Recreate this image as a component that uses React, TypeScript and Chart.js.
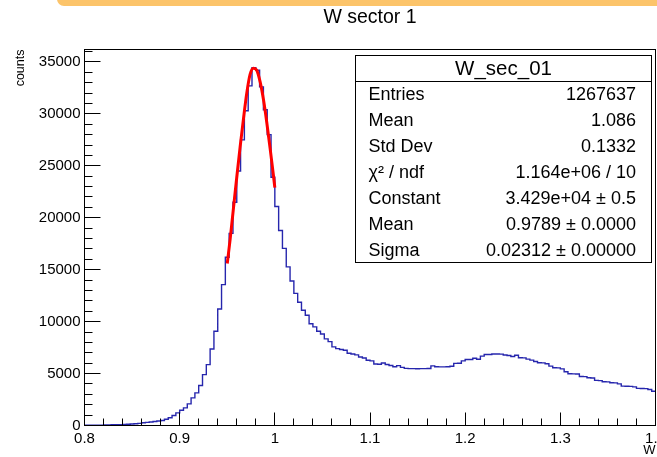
import React, { useEffect, useRef } from "react";
import { Chart, registerables } from "chart.js";

Chart.register(...registerables);

// ---------- data ----------
const titleText = "W sector 1";
const xAxisTitle = "W";
const yAxisTitle = "counts";
const xMin = 0.8;
const xMax = 1.4;
const yMin = 0;
const yMax = 36200;
const xTickValues = [0.8, 0.9, 1.0, 1.1, 1.2, 1.3, 1.4];
const xTickLabels = ["0.8", "0.9", "1", "1.1", "1.2", "1.3", "1.4"];
const yTickValues = [0, 5000, 10000, 15000, 20000, 25000, 30000, 35000];
const yTickLabels = ["0", "5000", "10000", "15000", "20000", "25000", "30000", "35000"];

// histogram: 150 bins of width 0.004 starting at 0.8
const binStart = 0.8;
const binWidth = 0.004;
const binCounts = [
  20, 25, 30, 35, 40, 50, 55, 65, 75, 85,
  100, 120, 150, 170, 200, 260, 300, 340, 390, 440,
  480, 600, 740, 960, 1220, 1470, 1700, 2080, 2660, 3140,
  3850, 4900, 5860, 7370, 9070, 11220, 13560, 16200, 18500, 21500,
  24500, 27500, 30300, 32700, 34450, 34200, 32600, 30400, 28000, 23900,
  21090, 18780, 17050, 15270, 13910, 12720, 11860, 11090, 10620, 9790,
  9500, 9070, 8810, 8340, 8080, 7570, 7400, 7310, 7250, 6950,
  6880, 6800, 6600, 6500, 6280, 6220, 5920, 5900, 6020, 5880,
  5770, 5650, 5760, 5600, 5500, 5480, 5480, 5470, 5480, 5480,
  5490, 5740, 5650, 5640, 5640, 5650, 5700, 5980, 6000, 6220,
  6350, 6360, 6480, 6380, 6680, 6830, 6840, 6890, 6880, 6870,
  6790, 6740, 6640, 6760, 6520, 6510, 6390, 6290, 6160, 6040,
  6030, 5940, 5720, 5560, 5550, 5450, 5170, 4980, 4970, 4960,
  4720, 4710, 4600, 4580, 4340, 4320, 4210, 4200, 4110, 4100,
  4010, 3790, 3780, 3770, 3720, 3570, 3560, 3550, 3460, 3300,
];

// gaussian fit curve
const fitX = [0.95, 0.953, 0.9565, 0.96, 0.9635, 0.967, 0.9705, 0.974, 0.9775, 0.981, 0.9845, 0.988, 0.9915, 0.995, 0.9985, 1.0];
const fitY = [15600, 17900, 20900, 23900, 26800, 29500, 32000, 33800, 34400, 34200, 33100, 31400, 29200, 26700, 24100, 22900];

// stats box
const statsTitle = "W_sec_01";
const statsLabels = ["Entries", "Mean", "Std Dev", "\u03c7\u00b2 / ndf", "Constant", "Mean", "Sigma"];
const statsValues = [
  "1267637",
  "1.086",
  "0.1332",
  "1.164e+06 / 10",
  "3.429e+04 \u00b1 0.5",
  "0.9789 \u00b1 0.0000",
  "0.02312 \u00b1 0.00000",
];

// ---------- styling ----------
const FONT = '"Liberation Sans", Arial, Helvetica, sans-serif';
const HIST_COLOR = "#2626ad";
const FIT_COLOR = "#ff0000";

const rootPlugin = {
  id: "rootDecor",
  afterDatasetsDraw(chart: any) {
    const { ctx, chartArea: a, scales } = chart;
    const xs = scales.x;
    const ys = scales.y;
    ctx.save();
    ctx.strokeStyle = "#000";
    ctx.lineWidth = 1;
    ctx.beginPath();
    // y ticks (inside, left)
    for (let i = 0; i <= 40; i++) {
      const v = i * 1000;
      if (v > yMax) break;
      const y = Math.floor(ys.getPixelForValue(v)) + 0.5;
      const len = i % 5 === 0 ? 16 : 8;
      ctx.moveTo(a.left, y);
      ctx.lineTo(a.left + len, y);
    }
    // x ticks (inside, bottom)
    for (let i = 0; i <= 30; i++) {
      const v = xMin + i * 0.02;
      const x = Math.floor(xs.getPixelForValue(v)) + 0.5;
      const len = i % 5 === 0 ? 13 : 7;
      ctx.moveTo(x, a.bottom);
      ctx.lineTo(x, a.bottom - len);
    }
    ctx.stroke();
    ctx.strokeRect(a.left, a.top, a.right - a.left, a.bottom - a.top);
    ctx.restore();
  },
  afterDraw(chart: any) {
    const { ctx } = chart;
    const L = 355.5, T = 55.5, R = 651.5, B = 262.5;
    const rowH = (B - T) / (statsLabels.length + 1);
    ctx.save();
    ctx.fillStyle = "#fff";
    ctx.fillRect(L, T, R - L, B - T);
    ctx.strokeStyle = "#000";
    ctx.lineWidth = 1;
    ctx.strokeRect(L, T, R - L, B - T);
    ctx.beginPath();
    const dy = Math.floor(T + rowH) + 0.5;
    ctx.moveTo(L, dy);
    ctx.lineTo(R, dy);
    ctx.stroke();
    ctx.fillStyle = "#000";
    ctx.textBaseline = "middle";
    ctx.textAlign = "center";
    ctx.font = `20.5px ${FONT}`;
    ctx.fillText(statsTitle, (L + R) / 2, T + rowH * 0.5 + 1);
    ctx.font = `18px ${FONT}`;
    for (let i = 0; i < statsLabels.length; i++) {
      const cy = T + rowH * (i + 1.5) + 1;
      ctx.textAlign = "left";
      ctx.fillText(statsLabels[i], 368.5, cy);
      ctx.textAlign = "right";
      ctx.fillText(statsValues[i], 636, cy);
    }
    ctx.restore();
  },
};

function labelFor(values: number[], labels: string[], v: number) {
  for (let i = 0; i < values.length; i++) {
    if (Math.abs(values[i] - v) < 1e-6 * Math.max(1, Math.abs(v))) return labels[i];
  }
  return "";
}

export default function App() {
  const canvasRef = useRef<HTMLCanvasElement | null>(null);

  useEffect(() => {
    if (!canvasRef.current) return;
    const histPoints = binCounts.map((c, i) => ({ x: binStart + i * binWidth, y: c }));
    histPoints.push({ x: binStart + binCounts.length * binWidth, y: binCounts[binCounts.length - 1] });
    const fitPoints = fitX.map((x, i) => ({ x, y: fitY[i] }));

    const chart = new Chart(canvasRef.current, {
      type: "line",
      data: {
        datasets: [
          {
            label: "fit",
            data: fitPoints,
            borderColor: FIT_COLOR,
            borderWidth: 3,
            pointRadius: 0,
            cubicInterpolationMode: "monotone",
            fill: false,
            order: 0,
          },
          {
            label: statsTitle,
            data: histPoints,
            borderColor: HIST_COLOR,
            borderWidth: 1.4,
            pointRadius: 0,
            stepped: "before",
            fill: false,
            order: 1,
          },
        ],
      },
      options: {
        responsive: false,
        animation: false,
        devicePixelRatio: 1,
        layout: { padding: { left: 0, right: 1.5, top: 0, bottom: 0 } },
        plugins: {
          legend: { display: false },
          tooltip: { enabled: false },
          title: {
            display: true,
            text: titleText,
            fullSize: false,
            color: "#000",
            font: { family: FONT, size: 19.5, weight: "normal", lineHeight: 1.2 },
            padding: { top: 6, bottom: 20.1 },
          },
        },
        scales: {
          x: {
            type: "linear",
            min: xMin,
            max: xMax,
            grid: { display: false, drawTicks: false },
            border: { display: false },
            afterBuildTicks: (s: any) => {
              s.ticks = xTickValues.map((v) => ({ value: v }));
            },
            ticks: {
              autoSkip: false,
              maxRotation: 0,
              padding: 4,
              color: "#000",
              font: { family: FONT, size: 15 },
              callback: (v: any) => labelFor(xTickValues, xTickLabels, Number(v)),
            },
            title: {
              display: true,
              text: xAxisTitle,
              align: "end",
              color: "#000",
              font: { family: FONT, size: 13, lineHeight: 1 },
              padding: { top: 0, bottom: 0 },
            },
            afterFit: (s: any) => {
              s.height = 31.5;
              s.paddingLeft = 0;
              s.paddingRight = 0;
            },
          },
          y: {
            type: "linear",
            min: yMin,
            max: yMax,
            grid: { display: false, drawTicks: false },
            border: { display: false },
            afterBuildTicks: (s: any) => {
              s.ticks = yTickValues.map((v) => ({ value: v }));
            },
            ticks: {
              autoSkip: false,
              padding: 4,
              color: "#000",
              font: { family: FONT, size: 15 },
              callback: (v: any) => labelFor(yTickValues, yTickLabels, Number(v)),
            },
            title: {
              display: true,
              text: yAxisTitle,
              align: "end",
              color: "#000",
              font: { family: FONT, size: 12.5, lineHeight: 1.2 },
              padding: { top: 13, bottom: 0 },
            },
            afterFit: (s: any) => {
              s.width = 84.5;
              s.paddingTop = 0;
              s.paddingBottom = 0;
            },
          },
        },
      },
      plugins: [rootPlugin],
    } as any);
    return () => chart.destroy();
  }, []);

  return (
    <div style={{ position: "fixed", left: 0, top: 0, width: 657, height: 457, background: "#fff", overflow: "hidden" }}>
      <div
        style={{
          position: "absolute",
          left: 57,
          top: -10,
          width: 620,
          height: 16,
          background: "#fcc46a",
          borderBottomLeftRadius: 7,
          zIndex: 1,
        }}
      />
      <canvas ref={canvasRef} width={657} height={457} style={{ display: "block", width: 657, height: 457 }} />
    </div>
  );
}
